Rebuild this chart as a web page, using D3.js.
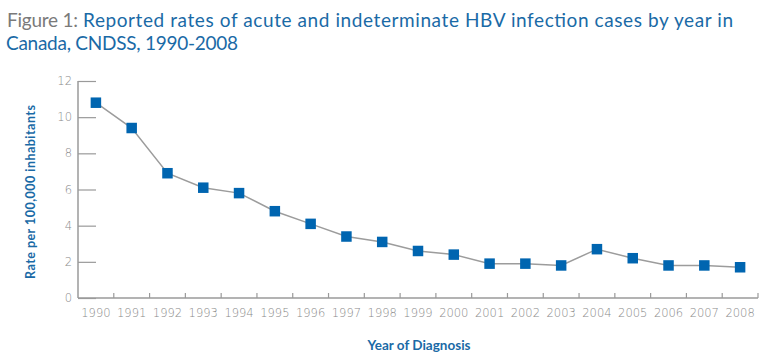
<!DOCTYPE html>
<html><head><meta charset="utf-8">
<script src="https://cdn.jsdelivr.net/npm/d3@7"></script>
<style>body{margin:0;background:#fff}svg{display:block}</style>
</head><body>
<svg id="c" width="772" height="364"></svg>
<script>
const years = ["1990","1991","1992","1993","1994","1995","1996","1997","1998","1999","2000","2001","2002","2003","2004","2005","2006","2007","2008"];
const rates = [10.8,9.4,6.9,6.1,5.8,4.8,4.1,3.4,3.1,2.6,2.4,1.9,1.9,1.8,2.7,2.2,1.8,1.8,1.7];
const yTicks = [0,2,4,6,8,10,12];
const titlePrefix = "Figure 1:";
const titleLine1 = "Reported rates of acute and indeterminate HBV infection cases by year in";
const titleLine2 = "Canada, CNDSS, 1990-2008";
const yTitle = "Rate per 100,000 inhabitants";
const xTitle = "Year of Diagnosis";

const svg = d3.select("#c");
const L = 78, R = 758, T = 81, B = 298;
const axisCol = "#9a9a9a", blue = "#1a6aa6", markCol = "#0065b0";
const x = d3.scaleBand().domain(years).range([L, R]).padding(0);
const y = d3.scaleLinear().domain([0, 12]).range([B, T]);

// title
const tf = "Lato, 'Open Sans', sans-serif";
svg.append("text").attr("x", 7).attr("y", 27).attr("font-family", tf).attr("font-size", 19)
  .attr("fill", "#7a7a7a").attr("textLength", 71).attr("lengthAdjust", "spacing").text(titlePrefix);
svg.append("text").attr("x", 83).attr("y", 27).attr("font-family", tf).attr("font-size", 19)
  .attr("fill", blue).attr("textLength", 650).attr("lengthAdjust", "spacing").text(titleLine1);
svg.append("text").attr("x", 6).attr("y", 50).attr("font-family", tf).attr("font-size", 19)
  .attr("fill", blue).attr("textLength", 232).attr("lengthAdjust", "spacing").text(titleLine2);

// y axis: ticks inside
const yAxis = d3.axisRight(y).tickValues(yTicks).tickSize(18).tickFormat("");
const gy = svg.append("g").attr("transform", `translate(${L},0)`).call(yAxis);
gy.select(".domain").remove();
gy.selectAll("line").attr("stroke", axisCol).attr("stroke-width", 1.2);
svg.append("line").attr("x1", L).attr("x2", L).attr("y1", T).attr("y2", B)
  .attr("stroke", axisCol).attr("stroke-width", 1.5);
svg.selectAll(".ylab").data(yTicks).join("text").attr("class","ylab")
  .attr("x", 72).attr("y", d => y(d)).attr("dy", "0.35em").attr("text-anchor", "end")
  .attr("font-family", "'DejaVu Sans', sans-serif").attr("font-weight", 200).attr("font-size", 11.5)
  .attr("fill", "#8a8a8a").text(d => d);

// x axis
svg.append("line").attr("x1", L).attr("x2", R).attr("y1", B).attr("y2", B)
  .attr("stroke", axisCol).attr("stroke-width", 1.5);
const bounds = years.map(d => x(d) + x.bandwidth());
svg.selectAll(".xt").data(bounds).join("line").attr("class","xt")
  .attr("x1", d => d).attr("x2", d => d).attr("y1", B).attr("y2", B - 5)
  .attr("stroke", axisCol).attr("stroke-width", 1.2);
svg.selectAll(".xlab").data(years).join("text").attr("class","xlab")
  .attr("x", d => x(d) + x.bandwidth()/2).attr("y", 317).attr("text-anchor", "middle")
  .attr("font-family", "'DejaVu Sans', sans-serif").attr("font-weight", 200).attr("font-size", 11.5)
  .attr("fill", "#8a8a8a").text(d => d);

// axis titles
svg.append("text").attr("transform", `translate(35,192) rotate(-90)`)
  .attr("text-anchor", "middle").attr("font-family", tf).attr("font-weight", "bold")
  .attr("font-size", 12.5).attr("fill", blue).attr("textLength", 174).attr("lengthAdjust", "spacing")
  .text(yTitle);
svg.append("text").attr("x", 419).attr("y", 350).attr("text-anchor", "middle")
  .attr("font-family", tf).attr("font-weight", "bold").attr("font-size", 13.5)
  .attr("fill", blue).text(xTitle);

// line + markers
const cx = d => x(d) + x.bandwidth()/2;
const line = d3.line().x((d,i) => cx(years[i])).y(d => y(d));
svg.append("path").datum(rates).attr("d", line).attr("fill", "none")
  .attr("stroke", "#9c9c9c").attr("stroke-width", 1.5);
const s = 10.5;
svg.selectAll(".pt").data(rates).join("rect").attr("class","pt")
  .attr("x", (d,i) => cx(years[i]) - s/2).attr("y", d => y(d) - s/2)
  .attr("width", s).attr("height", s).attr("fill", markCol);
</script>
</body></html>
